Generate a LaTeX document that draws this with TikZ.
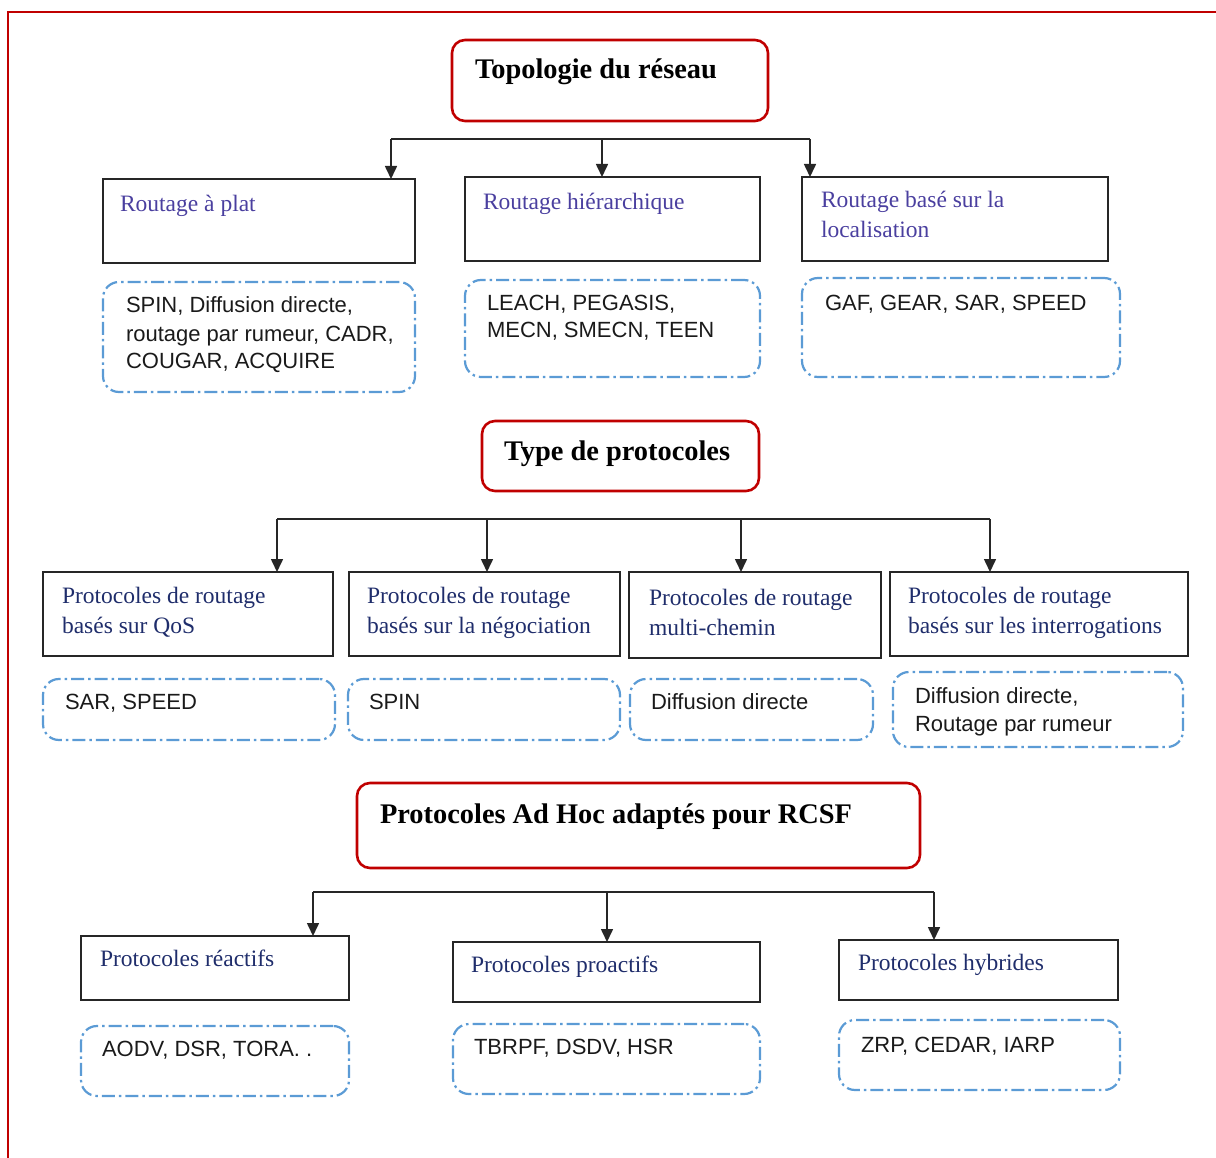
\documentclass[tikz,border=0pt]{standalone}
\usepackage{fontspec}
\setmainfont{Liberation Serif}
\setsansfont{Liberation Sans}
\usetikzlibrary{arrows.meta,positioning}
\definecolor{redframe}{HTML}{C00000}
\definecolor{dashblue}{HTML}{5B9BD5}
\definecolor{indigo}{HTML}{4A3F9F}
\definecolor{navy}{HTML}{1F2D6B}
\definecolor{ink}{HTML}{1A1A1A}

\begin{document}
\begin{tikzpicture}[
  x=1pt, y=-1pt,
  every node/.style={inner sep=0pt, outer sep=0pt},
  titlebox/.style={rectangle, rounded corners=13pt, draw=redframe, line width=2.6pt, anchor=north west},
  catbox/.style={rectangle, draw=black!85, line width=1.6pt, anchor=north west},
  listbox/.style={rectangle, rounded corners=16pt, draw=dashblue, line width=2.2pt, dash pattern=on 13pt off 4pt on 2.5pt off 4pt},
  titletext/.style={font=\fontsize{28.4}{32}\selectfont\bfseries, text=black, anchor=base west},
  cattext/.style={font=\fontsize{23.5}{30}\selectfont, text=navy, align=left, anchor=base west},
  listtext/.style={font=\sffamily\fontsize{22}{28}\selectfont, text=ink, align=left, anchor=base west},
  barline/.style={line width=1.6pt, draw=black!85},
  arrowline/.style={line width=1.6pt, draw=black!85, -{Triangle[width=12pt,length=13pt]}},
]
\useasboundingbox (0,0) rectangle (1216,1158);

% page frame
\draw[redframe, line width=2pt] (8,1162) -- (8,12) -- (1220,12);

% Topologie du reseau
\node[titlebox, minimum width=316pt, minimum height=81pt] (topo) at (452,40) {};
\node[titletext] at ([xshift=23pt,yshift=-39pt]topo.north west) {Topologie du réseau};

\node[catbox, minimum width=312pt, minimum height=84pt] (flat) at (103,179) {};
\node[cattext, text=indigo] at ([xshift=17pt,yshift=-33pt]flat.north west) {Routage à plat};
\node[catbox, minimum width=295pt, minimum height=84pt] (hier) at (465,177) {};
\node[cattext, text=indigo] at ([xshift=18pt,yshift=-33pt]hier.north west) {Routage hiérarchique};
\node[catbox, minimum width=306pt, minimum height=84pt] (loc) at (802,177) {};
\node[cattext, text=indigo] at ([xshift=19pt,yshift=-61pt]loc.north west) {Routage basé sur la\\localisation};

\node[listbox, minimum width=312pt, minimum height=110pt, below right=19pt and 0pt of flat.south west] (flatlist) {};
\node[listtext] at ([xshift=23pt,yshift=-87pt]flatlist.north west) {SPIN, Diffusion directe,\\routage par rumeur, CADR,\\COUGAR, ACQUIRE};
\node[listbox, minimum width=295pt, minimum height=97pt, below right=19pt and 0pt of hier.south west] (hierlist) {};
\node[listtext] at ([xshift=22pt,yshift=-58pt]hierlist.north west) {LEACH, PEGASIS,\\MECN, SMECN, TEEN};
\node[listbox, minimum width=318pt, minimum height=99pt, below right=17pt and 0pt of loc.south west] (loclist) {};
\node[listtext] at ([xshift=23pt,yshift=-33pt]loclist.north west) {GAF, GEAR, SAR, SPEED};

\coordinate (topo bar) at (0,139);
\draw[barline] (391,0 |- topo bar) -- (810,0 |- topo bar);
\foreach \x/\b in {391/flat, 602/hier, 810/loc}
  \draw[arrowline] (\x,0 |- topo bar) -- (\x,0 |- \b.north);

% Type de protocoles
\node[titlebox, minimum width=277pt, minimum height=70pt] (proto) at (482,421) {};
\node[titletext] at ([xshift=22pt,yshift=-39pt]proto.north west) {Type de protocoles};

\node[catbox, minimum width=290pt, minimum height=84pt] (qos) at (43,572) {};
\node[cattext] at ([xshift=19pt,yshift=-61pt]qos.north west) {Protocoles de routage\\basés sur QoS};
\node[catbox, minimum width=271pt, minimum height=84pt] (nego) at (349,572) {};
\node[cattext] at ([xshift=18pt,yshift=-61pt]nego.north west) {Protocoles de routage\\basés sur la négociation};
\node[catbox, minimum width=252pt, minimum height=86pt] (multi) at (629,572) {};
\node[cattext] at ([xshift=20pt,yshift=-63pt]multi.north west) {Protocoles de routage\\multi-chemin};
\node[catbox, minimum width=298pt, minimum height=84pt] (query) at (890,572) {};
\node[cattext] at ([xshift=18pt,yshift=-61pt]query.north west) {Protocoles de routage\\basés sur les interrogations};

\node[listbox, minimum width=292pt, minimum height=61pt, below right=23pt and 0pt of qos.south west] (qoslist) {};
\node[listtext] at ([xshift=22pt,yshift=-30pt]qoslist.north west) {SAR, SPEED};
\node[listbox, minimum width=272pt, minimum height=61pt, below right=23pt and -1pt of nego.south west] (negolist) {};
\node[listtext] at ([xshift=21pt,yshift=-30pt]negolist.north west) {SPIN};
\node[listbox, minimum width=243pt, minimum height=61pt, below right=21pt and 1pt of multi.south west] (multilist) {};
\node[listtext] at ([xshift=21pt,yshift=-30pt]multilist.north west) {Diffusion directe};
\node[listbox, minimum width=290pt, minimum height=75pt, below right=16pt and 3pt of query.south west] (querylist) {};
\node[listtext] at ([xshift=22pt,yshift=-59pt]querylist.north west) {Diffusion directe,\\Routage par rumeur};

\coordinate (proto bar) at (0,519);
\draw[barline] (277,0 |- proto bar) -- (990,0 |- proto bar);
\foreach \x/\b in {277/qos, 487/nego, 741/multi, 990/query}
  \draw[arrowline] (\x,0 |- proto bar) -- (\x,0 |- \b.north);

% Protocoles Ad Hoc
\node[titlebox, minimum width=563pt, minimum height=85pt] (adhoc) at (357,783) {};
\node[titletext] at ([xshift=23pt,yshift=-40pt]adhoc.north west) {Protocoles Ad Hoc adaptés pour RCSF};

\node[catbox, minimum width=268pt, minimum height=64pt] (reactive) at (81,936) {};
\node[cattext] at ([xshift=19pt,yshift=-30pt]reactive.north west) {Protocoles réactifs};
\node[catbox, minimum width=307pt, minimum height=60pt] (proactive) at (453,942) {};
\node[cattext] at ([xshift=18pt,yshift=-30pt]proactive.north west) {Protocoles proactifs};
\node[catbox, minimum width=279pt, minimum height=60pt] (hybrid) at (839,940) {};
\node[cattext] at ([xshift=19pt,yshift=-30pt]hybrid.north west) {Protocoles hybrides};

\node[listbox, minimum width=268pt, minimum height=70pt, below right=26pt and 0pt of reactive.south west] (reactivelist) {};
\node[listtext] at ([xshift=21pt,yshift=-30pt]reactivelist.north west) {AODV, DSR, TORA. .};
\node[listbox, minimum width=307pt, minimum height=70pt, below right=22pt and 0pt of proactive.south west] (proactivelist) {};
\node[listtext] at ([xshift=21pt,yshift=-30pt]proactivelist.north west) {TBRPF, DSDV, HSR};
\node[listbox, minimum width=281pt, minimum height=70pt, below right=20pt and 0pt of hybrid.south west] (hybridlist) {};
\node[listtext] at ([xshift=22pt,yshift=-32pt]hybridlist.north west) {ZRP, CEDAR, IARP};

\coordinate (adhoc bar) at (0,892);
\draw[barline] (313,0 |- adhoc bar) -- (934,0 |- adhoc bar);
\foreach \x/\b in {313/reactive, 607/proactive, 934/hybrid}
  \draw[arrowline] (\x,0 |- adhoc bar) -- (\x,0 |- \b.north);

\end{tikzpicture}
\end{document}
